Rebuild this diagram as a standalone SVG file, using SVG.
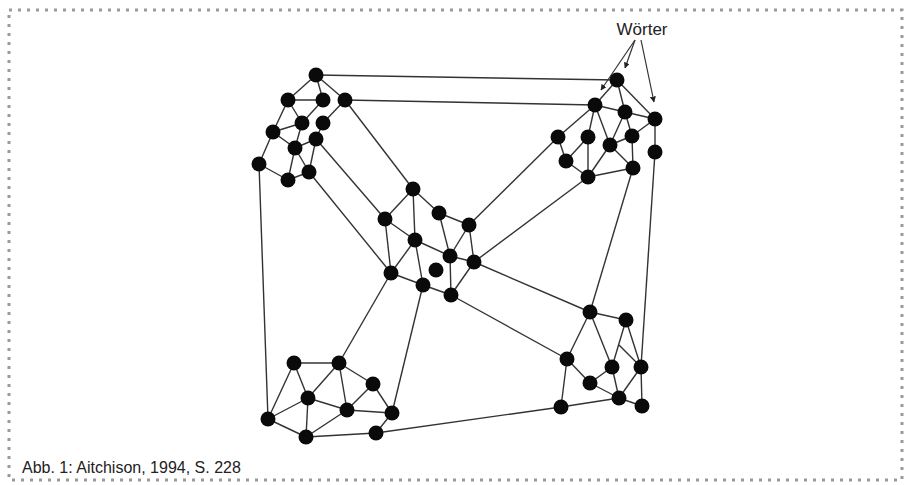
<svg xmlns="http://www.w3.org/2000/svg" width="905" height="485" viewBox="0 0 905 485">
<defs>
<style>
.e{stroke:#333;stroke-width:1.4;fill:none}
.n{fill:#0a0a0a}
.t{font-family:"Liberation Sans",Arial,sans-serif;fill:#222}
.a{stroke:#333;stroke-width:1.2;fill:none}
</style>
<marker id="ah" viewBox="0 0 10 10" refX="9" refY="5" markerWidth="6" markerHeight="6" orient="auto" markerUnits="userSpaceOnUse">
<path d="M0,0 L10,5 L0,10 z" fill="#222"/>
</marker>
</defs>
<rect width="905" height="485" fill="#fff"/>
<rect x="9" y="10" width="893" height="470" fill="none" stroke="#9a9a9a" stroke-width="3" stroke-dasharray="3 6"/>
<g id="connectors">
<line class="e" x1="316" y1="75" x2="288" y2="100"/>
<line class="e" x1="316" y1="75" x2="323" y2="100"/>
<line class="e" x1="316" y1="75" x2="345" y2="100"/>
<line class="e" x1="288" y1="100" x2="323" y2="100"/>
<line class="e" x1="288" y1="100" x2="273" y2="132"/>
<line class="e" x1="288" y1="100" x2="302" y2="123"/>
<line class="e" x1="323" y1="100" x2="302" y2="123"/>
<line class="e" x1="345" y1="100" x2="323" y2="123"/>
<line class="e" x1="302" y1="123" x2="273" y2="132"/>
<line class="e" x1="302" y1="123" x2="295" y2="148"/>
<line class="e" x1="323" y1="123" x2="316" y2="139"/>
<line class="e" x1="316" y1="139" x2="295" y2="148"/>
<line class="e" x1="273" y1="132" x2="295" y2="148"/>
<line class="e" x1="295" y1="148" x2="309" y2="172"/>
<line class="e" x1="295" y1="148" x2="288" y2="180"/>
<line class="e" x1="316" y1="139" x2="309" y2="172"/>
<line class="e" x1="273" y1="132" x2="259" y2="164"/>
<line class="e" x1="259" y1="164" x2="288" y2="180"/>
<line class="e" x1="288" y1="180" x2="309" y2="172"/>
<line class="e" x1="316" y1="75" x2="617" y2="80"/>
<line class="e" x1="345" y1="100" x2="595" y2="105"/>
<line class="e" x1="345" y1="100" x2="413" y2="189"/>
<line class="e" x1="316" y1="139" x2="385" y2="219"/>
<line class="e" x1="309" y1="172" x2="391" y2="273"/>
<line class="e" x1="259" y1="164" x2="268" y2="419"/>
<line class="e" x1="617" y1="80" x2="595" y2="105"/>
<line class="e" x1="617" y1="80" x2="625" y2="112"/>
<line class="e" x1="617" y1="80" x2="655" y2="119"/>
<line class="e" x1="595" y1="105" x2="625" y2="112"/>
<line class="e" x1="595" y1="105" x2="558" y2="137"/>
<line class="e" x1="595" y1="105" x2="588" y2="137"/>
<line class="e" x1="595" y1="105" x2="610" y2="145"/>
<line class="e" x1="625" y1="112" x2="610" y2="145"/>
<line class="e" x1="625" y1="112" x2="632" y2="136"/>
<line class="e" x1="625" y1="112" x2="655" y2="119"/>
<line class="e" x1="655" y1="119" x2="632" y2="136"/>
<line class="e" x1="655" y1="119" x2="655" y2="152"/>
<line class="e" x1="558" y1="137" x2="566" y2="161"/>
<line class="e" x1="588" y1="137" x2="566" y2="161"/>
<line class="e" x1="588" y1="137" x2="588" y2="177"/>
<line class="e" x1="610" y1="145" x2="632" y2="136"/>
<line class="e" x1="610" y1="145" x2="633" y2="168"/>
<line class="e" x1="610" y1="145" x2="588" y2="177"/>
<line class="e" x1="566" y1="161" x2="588" y2="177"/>
<line class="e" x1="588" y1="177" x2="633" y2="168"/>
<line class="e" x1="632" y1="136" x2="633" y2="168"/>
<line class="e" x1="558" y1="137" x2="469" y2="225"/>
<line class="e" x1="588" y1="177" x2="474" y2="262"/>
<line class="e" x1="633" y1="168" x2="590" y2="312"/>
<line class="e" x1="655" y1="152" x2="641" y2="367"/>
<line class="e" x1="413" y1="189" x2="385" y2="219"/>
<line class="e" x1="413" y1="189" x2="439" y2="213"/>
<line class="e" x1="413" y1="189" x2="415" y2="240"/>
<line class="e" x1="385" y1="219" x2="415" y2="240"/>
<line class="e" x1="385" y1="219" x2="391" y2="273"/>
<line class="e" x1="439" y1="213" x2="469" y2="225"/>
<line class="e" x1="439" y1="213" x2="450" y2="256"/>
<line class="e" x1="469" y1="225" x2="450" y2="256"/>
<line class="e" x1="469" y1="225" x2="474" y2="262"/>
<line class="e" x1="415" y1="240" x2="450" y2="256"/>
<line class="e" x1="415" y1="240" x2="391" y2="273"/>
<line class="e" x1="415" y1="240" x2="423" y2="285"/>
<line class="e" x1="450" y1="256" x2="474" y2="262"/>
<line class="e" x1="450" y1="256" x2="451" y2="295"/>
<line class="e" x1="474" y1="262" x2="451" y2="295"/>
<line class="e" x1="391" y1="273" x2="423" y2="285"/>
<line class="e" x1="423" y1="285" x2="451" y2="295"/>
<line class="e" x1="474" y1="262" x2="590" y2="312"/>
<line class="e" x1="451" y1="295" x2="567" y2="359"/>
<line class="e" x1="391" y1="273" x2="339" y2="363"/>
<line class="e" x1="423" y1="285" x2="392" y2="413"/>
<line class="e" x1="294" y1="363" x2="339" y2="363"/>
<line class="e" x1="294" y1="363" x2="308" y2="398"/>
<line class="e" x1="294" y1="363" x2="268" y2="419"/>
<line class="e" x1="339" y1="363" x2="373" y2="384"/>
<line class="e" x1="339" y1="363" x2="308" y2="398"/>
<line class="e" x1="339" y1="363" x2="347" y2="410"/>
<line class="e" x1="373" y1="384" x2="347" y2="410"/>
<line class="e" x1="373" y1="384" x2="392" y2="413"/>
<line class="e" x1="308" y1="398" x2="347" y2="410"/>
<line class="e" x1="308" y1="398" x2="268" y2="419"/>
<line class="e" x1="308" y1="398" x2="306" y2="437"/>
<line class="e" x1="347" y1="410" x2="392" y2="413"/>
<line class="e" x1="347" y1="410" x2="306" y2="437"/>
<line class="e" x1="268" y1="419" x2="306" y2="437"/>
<line class="e" x1="306" y1="437" x2="376" y2="433"/>
<line class="e" x1="376" y1="433" x2="392" y2="413"/>
<line class="e" x1="376" y1="433" x2="561" y2="407"/>
<line class="e" x1="590" y1="312" x2="626" y2="320"/>
<line class="e" x1="590" y1="312" x2="567" y2="359"/>
<line class="e" x1="590" y1="312" x2="612" y2="367"/>
<line class="e" x1="626" y1="320" x2="612" y2="367"/>
<line class="e" x1="626" y1="320" x2="641" y2="367"/>
<line class="e" x1="619" y1="345" x2="641" y2="367"/>
<line class="e" x1="567" y1="359" x2="590" y2="383"/>
<line class="e" x1="567" y1="359" x2="561" y2="407"/>
<line class="e" x1="612" y1="367" x2="590" y2="383"/>
<line class="e" x1="612" y1="367" x2="619" y2="398"/>
<line class="e" x1="641" y1="367" x2="619" y2="398"/>
<line class="e" x1="641" y1="367" x2="642" y2="406"/>
<line class="e" x1="590" y1="383" x2="619" y2="398"/>
<line class="e" x1="561" y1="407" x2="619" y2="398"/>
<line class="e" x1="619" y1="398" x2="642" y2="406"/>
<line class="a" x1="635" y1="40" x2="625" y2="68" marker-end="url(#ah)"/>
<line class="a" x1="635" y1="40" x2="601" y2="90" marker-end="url(#ah)"/>
<line class="a" x1="641" y1="40" x2="654" y2="102" marker-end="url(#ah)"/>
</g>
<g id="cluster-top-left">
<circle class="n" cx="316" cy="75" r="7.5"/>
<circle class="n" cx="288" cy="100" r="7.5"/>
<circle class="n" cx="323" cy="100" r="7.5"/>
<circle class="n" cx="345" cy="100" r="7.5"/>
<circle class="n" cx="302" cy="123" r="7.5"/>
<circle class="n" cx="323" cy="123" r="7.5"/>
<circle class="n" cx="273" cy="132" r="7.5"/>
<circle class="n" cx="316" cy="139" r="7.5"/>
<circle class="n" cx="295" cy="148" r="7.5"/>
<circle class="n" cx="259" cy="164" r="7.5"/>
<circle class="n" cx="309" cy="172" r="7.5"/>
<circle class="n" cx="288" cy="180" r="7.5"/>
</g>
<g id="cluster-top-right">
<circle class="n" cx="617" cy="80" r="7.5"/>
<circle class="n" cx="595" cy="105" r="7.5"/>
<circle class="n" cx="625" cy="112" r="7.5"/>
<circle class="n" cx="655" cy="119" r="7.5"/>
<circle class="n" cx="558" cy="137" r="7.5"/>
<circle class="n" cx="588" cy="137" r="7.5"/>
<circle class="n" cx="610" cy="145" r="7.5"/>
<circle class="n" cx="632" cy="136" r="7.5"/>
<circle class="n" cx="655" cy="152" r="7.5"/>
<circle class="n" cx="566" cy="161" r="7.5"/>
<circle class="n" cx="633" cy="168" r="7.5"/>
<circle class="n" cx="588" cy="177" r="7.5"/>
</g>
<g id="cluster-center">
<circle class="n" cx="413" cy="189" r="7.5"/>
<circle class="n" cx="385" cy="219" r="7.5"/>
<circle class="n" cx="439" cy="213" r="7.5"/>
<circle class="n" cx="469" cy="225" r="7.5"/>
<circle class="n" cx="415" cy="240" r="7.5"/>
<circle class="n" cx="450" cy="256" r="7.5"/>
<circle class="n" cx="474" cy="262" r="7.5"/>
<circle class="n" cx="436" cy="270" r="7.5"/>
<circle class="n" cx="391" cy="273" r="7.5"/>
<circle class="n" cx="423" cy="285" r="7.5"/>
<circle class="n" cx="451" cy="295" r="7.5"/>
</g>
<g id="cluster-bottom-left">
<circle class="n" cx="294" cy="363" r="7.5"/>
<circle class="n" cx="339" cy="363" r="7.5"/>
<circle class="n" cx="373" cy="384" r="7.5"/>
<circle class="n" cx="308" cy="398" r="7.5"/>
<circle class="n" cx="347" cy="410" r="7.5"/>
<circle class="n" cx="392" cy="413" r="7.5"/>
<circle class="n" cx="268" cy="419" r="7.5"/>
<circle class="n" cx="306" cy="437" r="7.5"/>
<circle class="n" cx="376" cy="433" r="7.5"/>
</g>
<g id="cluster-bottom-right">
<circle class="n" cx="590" cy="312" r="7.5"/>
<circle class="n" cx="626" cy="320" r="7.5"/>
<circle class="n" cx="567" cy="359" r="7.5"/>
<circle class="n" cx="612" cy="367" r="7.5"/>
<circle class="n" cx="641" cy="367" r="7.5"/>
<circle class="n" cx="590" cy="383" r="7.5"/>
<circle class="n" cx="619" cy="398" r="7.5"/>
<circle class="n" cx="561" cy="407" r="7.5"/>
<circle class="n" cx="642" cy="406" r="7.5"/>
</g>
<g id="label-woerter">
<text class="t" x="642" y="35" font-size="17" text-anchor="middle">Wörter</text>
</g>
<g id="caption">
<text class="t" x="22" y="473" font-size="16">Abb. 1: Aitchison, 1994, S. 228</text>
</g>
</svg>
